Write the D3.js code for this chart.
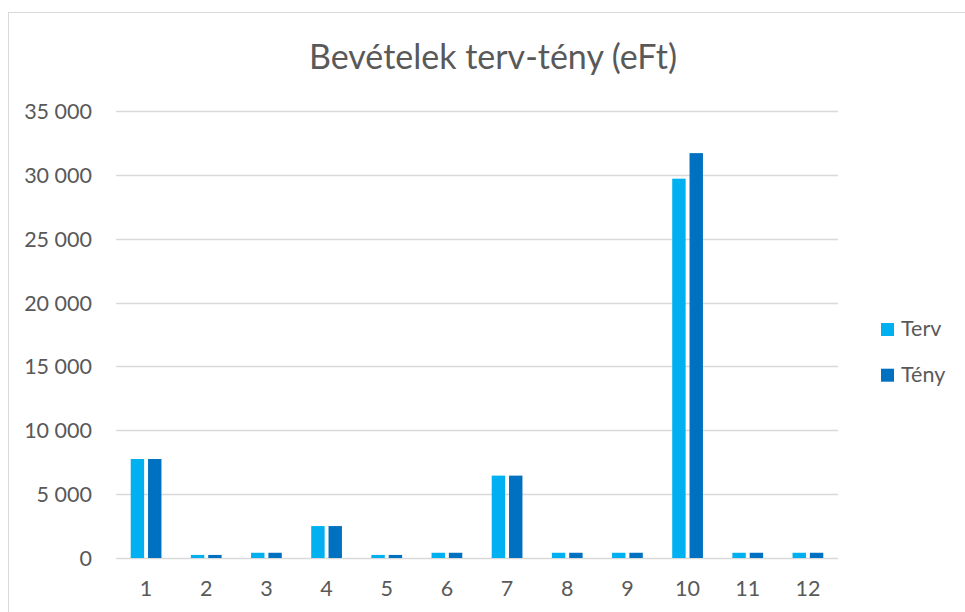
<!DOCTYPE html>
<html lang="hu">
<head>
    <meta charset="UTF-8">
    <title>Bevételek terv-tény (eFt)</title>
    <script src="https://d3js.org/d3.v7.min.js"></script>
    <style>
        body { margin: 0; background: #fff; }
        svg text { font-family: Lato, "Open Sans", sans-serif; fill: #595959; }
    </style>
</head>
<body>
    <svg width="965" height="612"></svg>
    <script>
        // data (eFt)
        const months = ["1", "2", "3", "4", "5", "6", "7", "8", "9", "10", "11", "12"];
        const seriesNames = ["Terv", "Tény"];
        const terv = [7750, 240, 410, 2500, 240, 410, 6450, 410, 410, 29700, 410, 410];
        const teny = [7750, 240, 410, 2500, 240, 410, 6450, 410, 410, 31700, 410, 410];
        const yTicks = [0, 5000, 10000, 15000, 20000, 25000, 30000, 35000];
        const colors = ["#00b0f0", "#0070c0"];

        const svg = d3.select("svg");
        const plot = { left: 116, right: 838, top: 111, bottom: 558 };

        // chart frame (only top and left edges show in the window)
        svg.append("rect")
            .attr("x", 8.5).attr("y", 12.5)
            .attr("width", 1000).attr("height", 700)
            .attr("fill", "none")
            .attr("stroke", "#d9d9d9");

        const x0 = d3.scaleBand()
            .domain(months)
            .range([plot.left, plot.right]);

        const x1 = d3.scaleBand()
            .domain(seriesNames)
            .range([0, x0.bandwidth()])
            .paddingInner(0.225)
            .paddingOuter(0.85);

        const y = d3.scaleLinear()
            .domain([0, 35000])
            .range([plot.bottom, plot.top]);

        const fmt = d3.formatLocale({ decimal: ",", thousands: " ", grouping: [3], currency: ["", ""] }).format(",d");

        // gridlines
        svg.append("g")
            .selectAll("line")
            .data(yTicks)
            .join("line")
            .attr("x1", plot.left).attr("x2", plot.right)
            .attr("y1", d => Math.round(y(d)) + 0.5)
            .attr("y2", d => Math.round(y(d)) + 0.5)
            .attr("stroke", "#d9d9d9")
            .attr("stroke-width", 1.3);

        // y axis labels
        const yAxis = d3.axisLeft(y).tickValues(yTicks).tickFormat(fmt).tickSize(0).tickPadding(0);
        const gy = svg.append("g")
            .attr("transform", "translate(92,0)")
            .call(yAxis);
        gy.select(".domain").remove();
        gy.selectAll("text")
            .attr("font-size", 21.5)
            .attr("dy", "0.35em")
            .style("font-family", "Lato, 'Open Sans', sans-serif")
            .attr("fill", "#595959");

        // x axis labels
        const xAxis = d3.axisBottom(x0).tickSize(0).tickPadding(0);
        const gx = svg.append("g")
            .attr("transform", "translate(0,596)")
            .call(xAxis);
        gx.select(".domain").remove();
        gx.selectAll("text")
            .attr("font-size", 21.5)
            .attr("dy", 0)
            .style("font-family", "Lato, 'Open Sans', sans-serif")
            .attr("fill", "#595959");

        // bars
        const rows = months.map((m, i) => ({ month: m, values: [terv[i], teny[i]] }));
        svg.append("g")
            .selectAll("g")
            .data(rows)
            .join("g")
            .attr("transform", d => `translate(${x0(d.month)},0)`)
            .selectAll("rect")
            .data(d => d.values.map((v, j) => ({ key: seriesNames[j], value: v, color: colors[j] })))
            .join("rect")
            .attr("x", d => x1(d.key))
            .attr("width", x1.bandwidth())
            .attr("y", d => y(d.value))
            .attr("height", d => y(0) - y(d.value))
            .attr("fill", d => d.color);

        // title
        svg.append("text")
            .attr("x", 493)
            .attr("y", 69)
            .attr("text-anchor", "middle")
            .attr("font-size", 34)
            .text("Bevételek terv-tény (eFt)");

        // legend
        const legend = svg.append("g")
            .selectAll("g")
            .data(seriesNames)
            .join("g")
            .attr("transform", (d, i) => `translate(881,${323 + i * 45.7})`);
        legend.append("rect")
            .attr("width", 13).attr("height", 13)
            .attr("fill", (d, i) => colors[i]);
        legend.append("text")
            .attr("x", 20)
            .attr("y", 13)
            .attr("font-size", 21.5)
            .text(d => d);
    </script>
</body>
</html>
